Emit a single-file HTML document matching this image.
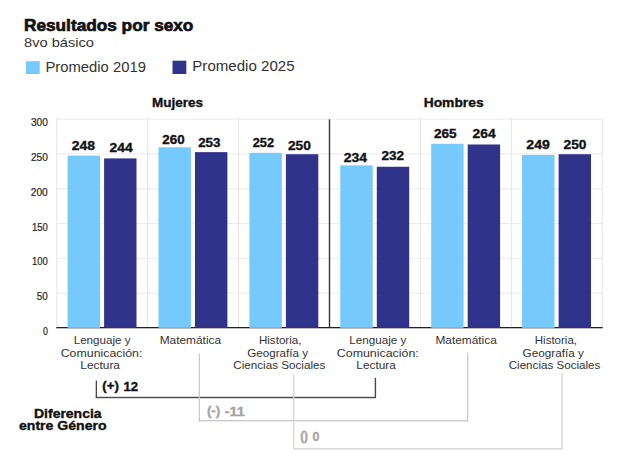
<!DOCTYPE html>
<html><head><meta charset="utf-8"><style>
html,body{margin:0;padding:0;background:#fff;width:633px;height:459px;overflow:hidden}
svg{display:block;font-family:"Liberation Sans",sans-serif}
</style></head><body>
<svg width="633" height="459" viewBox="0 0 633 459">
<rect width="633" height="459" fill="#fff"/>
<rect x="56.80" y="292.69" width="545.40" height="1" fill="#ebebeb"/>
<rect x="56.80" y="257.87" width="545.40" height="1" fill="#ebebeb"/>
<rect x="56.80" y="223.06" width="545.40" height="1" fill="#ebebeb"/>
<rect x="56.80" y="188.24" width="545.40" height="1" fill="#ebebeb"/>
<rect x="56.80" y="153.43" width="545.40" height="1" fill="#ebebeb"/>
<rect x="56.80" y="118.61" width="545.40" height="1" fill="#ebebeb"/>
<rect x="56.30" y="118.21" width="1.0" height="209.39" fill="#e4e4e4"/>
<rect x="147.20" y="118.21" width="1.0" height="209.39" fill="#e4e4e4"/>
<rect x="238.10" y="118.21" width="1.0" height="209.39" fill="#e4e4e4"/>
<rect x="419.90" y="118.21" width="1.0" height="209.39" fill="#e4e4e4"/>
<rect x="510.80" y="118.21" width="1.0" height="209.39" fill="#e4e4e4"/>
<rect x="601.70" y="118.21" width="1.0" height="209.39" fill="#e4e4e4"/>
<rect x="328.80" y="119.31" width="1.4" height="208.59" fill="#333"/>
<rect x="56.30" y="327.00" width="546.40" height="1.3" fill="#222"/>
<rect x="67.60" y="155.62" width="32.4" height="172.28" fill="#75c9fb"/>
<rect x="104.10" y="158.40" width="32.4" height="169.50" fill="#31338b"/>
<rect x="158.50" y="147.26" width="32.4" height="180.64" fill="#75c9fb"/>
<rect x="195.00" y="152.14" width="32.4" height="175.76" fill="#31338b"/>
<rect x="249.40" y="152.83" width="32.4" height="175.07" fill="#75c9fb"/>
<rect x="285.90" y="154.22" width="32.4" height="173.68" fill="#31338b"/>
<rect x="340.30" y="165.37" width="32.4" height="162.53" fill="#75c9fb"/>
<rect x="376.80" y="166.76" width="32.4" height="161.14" fill="#31338b"/>
<rect x="431.20" y="143.78" width="32.4" height="184.12" fill="#75c9fb"/>
<rect x="467.70" y="144.48" width="32.4" height="183.42" fill="#31338b"/>
<rect x="522.10" y="154.92" width="32.4" height="172.98" fill="#75c9fb"/>
<rect x="558.60" y="154.22" width="32.4" height="173.68" fill="#31338b"/>
<rect x="26" y="61.2" width="13.7" height="12.8" fill="#75c9fb"/>
<rect x="172.5" y="60.7" width="13.8" height="13.3" fill="#31338b"/>
<rect x="95.7" y="380.5" width="1.3" height="17.5" fill="#484848"/>
<rect x="374.7" y="377.8" width="1.4" height="20.2" fill="#484848"/>
<rect x="95.7" y="396.8" width="280.3" height="1.4" fill="#484848"/>
<rect x="198.7" y="353.5" width="1.3" height="68" fill="#cacaca"/>
<rect x="467.0" y="352.5" width="1.3" height="69" fill="#cacaca"/>
<rect x="198.7" y="420.0" width="269.6" height="1.4" fill="#cacaca"/>
<rect x="293.1" y="374.5" width="1.3" height="75" fill="#d6d6d6"/>
<rect x="561.3" y="373.5" width="1.4" height="76" fill="#d6d6d6"/>
<rect x="293.1" y="448.1" width="269.6" height="1.4" fill="#d6d6d6"/>
<text x="24.00" y="31.00" font-size="17.0" font-weight="bold" fill="#111111" stroke="#111111" stroke-width="0.7" textLength="169.40" lengthAdjust="spacingAndGlyphs">Resultados por sexo</text>
<text x="24.00" y="46.90" font-size="13.2" font-weight="normal" fill="#333333" textLength="70.00" lengthAdjust="spacingAndGlyphs">8vo básico</text>
<text x="45.40" y="72.40" font-size="14.3" font-weight="normal" fill="#333333" textLength="100.60" lengthAdjust="spacingAndGlyphs">Promedio 2019</text>
<text x="192.30" y="71.40" font-size="14.3" font-weight="normal" fill="#333333" textLength="102.30" lengthAdjust="spacingAndGlyphs">Promedio 2025</text>
<text x="152.00" y="106.50" font-size="13.3" font-weight="bold" fill="#111111" stroke="#111111" stroke-width="0.35" textLength="51.00" lengthAdjust="spacingAndGlyphs">Mujeres</text>
<text x="423.70" y="106.80" font-size="13.3" font-weight="bold" fill="#111111" stroke="#111111" stroke-width="0.35" textLength="59.90" lengthAdjust="spacingAndGlyphs">Hombres</text>
<text x="42.90" y="335.00" font-size="10.5" font-weight="normal" fill="#262626" stroke="#262626" stroke-width="0.2" textLength="4.90" lengthAdjust="spacingAndGlyphs">0</text>
<text x="36.80" y="300.19" font-size="10.5" font-weight="normal" fill="#262626" stroke="#262626" stroke-width="0.2" textLength="11.00" lengthAdjust="spacingAndGlyphs">50</text>
<text x="31.90" y="265.37" font-size="10.5" font-weight="normal" fill="#262626" stroke="#262626" stroke-width="0.2" textLength="15.90" lengthAdjust="spacingAndGlyphs">100</text>
<text x="31.90" y="230.56" font-size="10.5" font-weight="normal" fill="#262626" stroke="#262626" stroke-width="0.2" textLength="15.90" lengthAdjust="spacingAndGlyphs">150</text>
<text x="30.80" y="195.74" font-size="10.5" font-weight="normal" fill="#262626" stroke="#262626" stroke-width="0.2" textLength="17.00" lengthAdjust="spacingAndGlyphs">200</text>
<text x="30.90" y="160.93" font-size="10.5" font-weight="normal" fill="#262626" stroke="#262626" stroke-width="0.2" textLength="16.90" lengthAdjust="spacingAndGlyphs">250</text>
<text x="30.90" y="126.11" font-size="10.5" font-weight="normal" fill="#262626" stroke="#262626" stroke-width="0.2" textLength="16.90" lengthAdjust="spacingAndGlyphs">300</text>
<text x="71.70" y="149.80" font-size="13.2" font-weight="bold" fill="#111111" stroke="#111111" stroke-width="0.35" textLength="23.30" lengthAdjust="spacingAndGlyphs">248</text>
<text x="109.60" y="151.80" font-size="13.2" font-weight="bold" fill="#111111" stroke="#111111" stroke-width="0.35" textLength="23.10" lengthAdjust="spacingAndGlyphs">244</text>
<text x="162.30" y="143.80" font-size="13.2" font-weight="bold" fill="#111111" stroke="#111111" stroke-width="0.35" textLength="22.30" lengthAdjust="spacingAndGlyphs">260</text>
<text x="198.20" y="147.30" font-size="13.2" font-weight="bold" fill="#111111" stroke="#111111" stroke-width="0.35" textLength="22.30" lengthAdjust="spacingAndGlyphs">253</text>
<text x="252.70" y="147.40" font-size="13.2" font-weight="bold" fill="#111111" stroke="#111111" stroke-width="0.35" textLength="21.30" lengthAdjust="spacingAndGlyphs">252</text>
<text x="287.90" y="149.70" font-size="13.2" font-weight="bold" fill="#111111" stroke="#111111" stroke-width="0.35" textLength="22.90" lengthAdjust="spacingAndGlyphs">250</text>
<text x="343.70" y="161.50" font-size="13.2" font-weight="bold" fill="#111111" stroke="#111111" stroke-width="0.35" textLength="23.30" lengthAdjust="spacingAndGlyphs">234</text>
<text x="381.60" y="159.70" font-size="13.2" font-weight="bold" fill="#111111" stroke="#111111" stroke-width="0.35" textLength="22.50" lengthAdjust="spacingAndGlyphs">232</text>
<text x="433.90" y="138.00" font-size="13.2" font-weight="bold" fill="#111111" stroke="#111111" stroke-width="0.35" textLength="22.70" lengthAdjust="spacingAndGlyphs">265</text>
<text x="472.60" y="138.30" font-size="13.2" font-weight="bold" fill="#111111" stroke="#111111" stroke-width="0.35" textLength="23.10" lengthAdjust="spacingAndGlyphs">264</text>
<text x="526.30" y="148.80" font-size="13.2" font-weight="bold" fill="#111111" stroke="#111111" stroke-width="0.35" textLength="23.50" lengthAdjust="spacingAndGlyphs">249</text>
<text x="563.60" y="148.80" font-size="13.2" font-weight="bold" fill="#111111" stroke="#111111" stroke-width="0.35" textLength="22.90" lengthAdjust="spacingAndGlyphs">250</text>
<text x="73.70" y="343.80" font-size="11.8" font-weight="normal" fill="#333333" textLength="56.90" lengthAdjust="spacingAndGlyphs">Lenguaje y</text>
<text x="60.70" y="356.60" font-size="11.8" font-weight="normal" fill="#333333" textLength="81.70" lengthAdjust="spacingAndGlyphs">Comunicación:</text>
<text x="80.30" y="369.30" font-size="11.8" font-weight="normal" fill="#333333" textLength="39.70" lengthAdjust="spacingAndGlyphs">Lectura</text>
<text x="159.70" y="343.80" font-size="11.8" font-weight="normal" fill="#333333" textLength="61.40" lengthAdjust="spacingAndGlyphs">Matemática</text>
<text x="258.90" y="343.80" font-size="11.8" font-weight="normal" fill="#333333" textLength="42.60" lengthAdjust="spacingAndGlyphs">Historia,</text>
<text x="247.20" y="356.60" font-size="11.8" font-weight="normal" fill="#333333" textLength="60.80" lengthAdjust="spacingAndGlyphs">Geografía y</text>
<text x="233.30" y="369.30" font-size="11.8" font-weight="normal" fill="#333333" textLength="92.00" lengthAdjust="spacingAndGlyphs">Ciencias Sociales</text>
<text x="349.30" y="343.80" font-size="11.8" font-weight="normal" fill="#333333" textLength="57.00" lengthAdjust="spacingAndGlyphs">Lenguaje y</text>
<text x="336.80" y="356.60" font-size="11.8" font-weight="normal" fill="#333333" textLength="82.00" lengthAdjust="spacingAndGlyphs">Comunicación:</text>
<text x="356.30" y="369.30" font-size="11.8" font-weight="normal" fill="#333333" textLength="39.60" lengthAdjust="spacingAndGlyphs">Lectura</text>
<text x="435.40" y="343.80" font-size="11.8" font-weight="normal" fill="#333333" textLength="61.40" lengthAdjust="spacingAndGlyphs">Matemática</text>
<text x="534.80" y="343.80" font-size="11.8" font-weight="normal" fill="#333333" textLength="42.20" lengthAdjust="spacingAndGlyphs">Historia,</text>
<text x="522.60" y="356.60" font-size="11.8" font-weight="normal" fill="#333333" textLength="61.20" lengthAdjust="spacingAndGlyphs">Geografía y</text>
<text x="508.70" y="369.30" font-size="11.8" font-weight="normal" fill="#333333" textLength="91.70" lengthAdjust="spacingAndGlyphs">Ciencias Sociales</text>
<text x="102.30" y="389.60" font-size="12.2" font-weight="bold" fill="#111111" stroke="#111111" stroke-width="0.35" textLength="16.50" lengthAdjust="spacingAndGlyphs">(+)</text>
<text x="123.40" y="390.60" font-size="12.9" font-weight="bold" fill="#111111" stroke="#111111" stroke-width="0.35" textLength="14.60" lengthAdjust="spacingAndGlyphs">12</text>
<text x="206.90" y="415.30" font-size="12.5" font-weight="bold" fill="#a3a3a3" stroke="#a3a3a3" stroke-width="0.35" textLength="13.30" lengthAdjust="spacingAndGlyphs">(-)</text>
<text x="224.70" y="416.40" font-size="12.9" font-weight="bold" fill="#a3a3a3" stroke="#a3a3a3" stroke-width="0.35" textLength="20.10" lengthAdjust="spacingAndGlyphs">-11</text>
<text x="300.20" y="439.90" font-size="12.3" font-weight="bold" fill="#a3a3a3" stroke="#a3a3a3" stroke-width="0.35" textLength="7.80" lengthAdjust="spacingAndGlyphs">()</text>
<text x="312.40" y="440.70" font-size="13.1" font-weight="bold" fill="#a3a3a3" stroke="#a3a3a3" stroke-width="0.35" textLength="6.90" lengthAdjust="spacingAndGlyphs">0</text>
<text x="34.00" y="417.90" font-size="12.6" font-weight="bold" fill="#111111" stroke="#111111" stroke-width="0.35" textLength="67.60" lengthAdjust="spacingAndGlyphs">Diferencia</text>
<text x="19.00" y="430.30" font-size="12.6" font-weight="bold" fill="#111111" stroke="#111111" stroke-width="0.35" textLength="87.60" lengthAdjust="spacingAndGlyphs">entre Género</text>
</svg>
</body></html>
